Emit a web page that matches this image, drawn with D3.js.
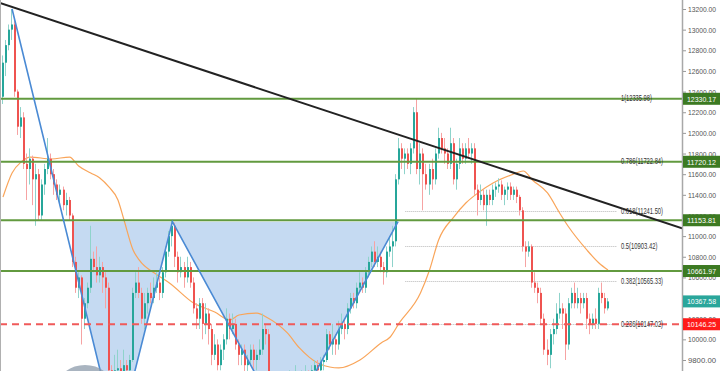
<!DOCTYPE html>
<html>
<head>
<meta charset="utf-8">
<script src="https://cdn.jsdelivr.net/npm/d3@7"></script>
<style>
  body { margin: 0; background: #fff; overflow: hidden; }
  text { font-family: "Liberation Sans", Arial, sans-serif; }
</style>
</head>
<body>
<div id="chart"></div>
<script>
// [open, high, low, close] per candle
const candles = [
  [12350,12750,12280,12680],[12680,12900,12550,12850],[12850,13050,12800,13000],[13000,13200,12900,13050],
  [13050,13100,12350,12400],[12400,12420,11980,12060],[12060,12250,11950,12150],[12150,12200,11650,11700],
  [11700,11800,11350,11650],[11650,11850,11500,11750],[11750,11780,11300,11550],[11550,11700,11100,11600],
  [11600,11650,11150,11200],[11200,11550,11150,11500],[11500,11700,11400,11650],[11650,11950,11600,11750],
  [11750,11800,11550,11600],[11600,11650,11400,11500],[11500,11550,11350,11400],[11400,11500,11300,11450],
  [11450,11480,11250,11300],[11300,11420,11200,11350],[11350,11380,11150,11200],[11200,11220,10700,10750],
  [10750,10800,10450,10500],[10500,10650,10400,10600],[10600,10620,9950,10200],[10200,10400,10100,10350],
  [10350,10550,10300,10500],[10500,11100,10450,10780],[10780,10850,10650,10700],[10700,10900,10550,10620],
  [10620,10800,10550,10700],[10700,10750,10450,10600],[10600,10650,10300,10500],[10500,10550,9600,9700],
  [9700,9750,9450,9600],[9600,9850,9550,9700],[9700,9900,9600,9720],[9720,9800,9550,9650],
  [9650,9900,9600,9750],[9750,9800,9550,9700],[9700,9850,9650,9800],[9800,10500,9780,10450],
  [10450,10650,10400,10550],[10550,10700,10400,10450],[10450,10500,10150,10200],[10200,10450,10100,10350],
  [10350,10500,10250,10450],[10450,10550,10350,10400],[10400,10600,10350,10500],[10500,10650,10450,10550],
  [10550,10600,10380,10450],[10450,10700,10400,10650],[10650,10900,10600,10850],[10850,11050,10800,11000],
  [11000,11150,10900,11100],[11100,11130,10700,10800],[10800,10850,10550,10650],[10650,10800,10600,10700],
  [10700,10750,10500,10600],[10600,10800,10550,10700],[10700,10750,10500,10550],[10550,10600,10250,10300],
  [10300,10350,10100,10200],[10200,10400,10100,10350],[10350,10400,10000,10150],[10150,10350,10050,10250],
  [10250,10300,9950,10100],[10100,10150,9750,9850],[9850,10050,9800,9950],[9950,10000,9700,9750],
  [9750,9950,9700,9900],[9900,10050,9800,10000],[10000,10300,9950,10200],[10200,10250,10000,10100],
  [10100,10250,10050,10150],[10150,10200,9900,9950],[9950,10000,9750,9850],[9850,9950,9750,9900],
  [9900,9950,9650,9750],[9750,9850,9650,9800],[9800,9950,9750,9900],[9900,9950,9700,9800],
  [9800,9900,9700,9850],[9850,10000,9800,9900],[9900,10250,9850,10100],[10100,10150,9950,10050],
  [10050,10100,9450,9550],[9550,9600,9350,9450],[9450,9600,9400,9500],[9500,9550,9300,9400],
  [9400,9450,9200,9300],[9300,9450,9250,9350],[9350,9550,9300,9450],[9450,9700,9400,9550],
  [9550,9650,9450,9500],[9500,9750,9450,9600],[9600,9650,9400,9500],[9500,9700,9450,9600],
  [9600,9750,9550,9650],[9650,9700,9500,9600],[9600,9750,9550,9700],[9700,9800,9650,9750],
  [9750,9800,9650,9700],[9700,9830,9650,9780],[9780,9850,9700,9800],[9800,10100,9780,10050],
  [10050,10080,9900,9950],[9950,10150,9850,10000],[10000,10050,9850,9950],[9950,10180,9900,10100],
  [10100,10250,10050,10150],[10150,10200,10000,10100],[10100,10350,10050,10300],[10300,10450,10250,10400],
  [10400,10450,10300,10350],[10350,10550,10300,10500],[10500,10650,10450,10550],[10550,10600,10450,10500],
  [10500,10700,10450,10650],[10650,10800,10600,10750],[10750,10900,10700,10850],[10850,10950,10700,10750],
  [10750,10900,10700,10800],[10800,10850,10650,10700],[10700,10750,10530,10650],[10650,10900,10600,10850],
  [10850,11000,10800,10900],[10900,11100,10700,10950],[10950,11600,10900,11550],[11550,11950,11500,11850],
  [11850,11900,11650,11750],[11750,11850,11600,11800],[11800,11850,11650,11700],[11700,11900,11600,11850],
  [11850,12250,11800,12200],[12200,12335,11600,11650],[11650,11900,11500,11800],[11800,11850,11250,11600],
  [11600,11700,11450,11500],[11500,11700,11400,11650],[11650,11750,11450,11550],[11550,11850,11500,11800],
  [11800,12050,11750,11950],[11950,12000,11800,11850],[11850,11950,11700,11800],[11800,11850,11650,11700],
  [11700,12050,11650,11900],[11900,11950,11500,11550],[11550,11750,11450,11700],[11700,11950,11650,11850],
  [11850,11900,11700,11750],[11750,11900,11700,11850],[11850,11950,11750,11800],[11800,11900,11700,11850],
  [11850,11900,11400,11450],[11450,11500,11200,11350],[11350,11500,11300,11400],[11400,11450,11250,11300],
  [11300,11450,11100,11400],[11400,11450,11300,11350],[11350,11500,11300,11450],[11450,11520,11380,11480],
  [11480,11560,11420,11500],[11500,11540,11350,11400],[11400,11480,11300,11450],[11450,11520,11350,11480],
  [11480,11520,11350,11400],[11400,11480,11350,11450],[11450,11480,11320,11380],[11380,11400,11200,11250],
  [11250,11280,10850,10900],[10900,10950,10700,10850],[10850,10950,10800,10900],[10900,10920,10500,10550],
  [10550,10650,10450,10500],[10500,10550,10350,10450],[10450,10500,10150,10200],[10200,10250,9850,9900],
  [9900,10000,9750,9850],[9850,10100,9720,10050],[10050,10200,9950,10100],[10100,10350,10050,10250],
  [10250,10450,10200,10300],[10300,10350,10100,10250],[10250,10300,9800,9950],[9950,10400,9900,10350],
  [10350,10500,10300,10450],[10450,10550,10300,10350],[10350,10500,10300,10400],[10400,10450,10250,10350],
  [10350,10450,10300,10400],[10400,10450,10100,10200],[10200,10250,10050,10150],[10150,10250,10100,10200],
  [10200,10300,10100,10150],[10150,10500,10100,10450],[10450,10550,10350,10400],[10400,10450,10250,10300],
  [10300,10400,10280,10367.58]
];

// moving average: [candle index, price]
const maPoints = [
  [0,11379],[3,11612],[6,11718],[9,11766],[16,11747],[22,11766],[25,11679],[29,11612],[32,11563],
  [35,11476],[38,11350],[40,11156],[43,10866],[45,10769],[51,10624],[55,10546],[63,10352],[70,10265],
  [75,10188],[78,10236],[84,10255],[87,10217],[94,10062],[98,9917],[104,9771],[108,9732],[111,9723],
  [118,9800],[125,9965],[128,10023],[131,10159],[138,10449],[141,10672],[144,10963],[149,11185],
  [153,11321],[157,11418],[162,11515],[168,11592],[172,11631],[175,11544],[180,11418],[184,11224],
  [187,11088],[193,10866],[197,10740],[200,10672]
];

const priceTicks = [9800,10000,10200,10400,10600,10800,11000,11200,11400,11600,11800,12000,12200,12400,12600,12800,13000,13200];
const greenLevels = [12330.17, 11720.12, 11153.81, 10661.97];
const fibNames = ["1", "0.786", "0.618", "0.5", "0.382", "0.236"];
const fibPrices = [12335.98, 11722.84, 11241.50, 10903.42, 10565.33, 10147.02];
const fibStart = 133;
const redLevel = 10146.25;
const lastPrice = 10367.58;
const trendPoints = [[-1, 13258], [224.5, 11075]];
const patternPoints = [[3, 13200], [37.8, 9016], [56, 11140], [93.2, 9142], [130.6, 11140]];
const shadePoints = [[23, 11140], [23, 10800], [37.8, 9016], [56, 11140], [93.2, 9142], [130.6, 11140]];

const fullWidth = 720;
const fullHeight = 371;
const plotRight = 682;

const x = d3.scaleLinear().domain([0, 200]).range([3, 608]);
const y = d3.scaleLinear().domain([9800, 13200]).range([360, 9]);

const svg = d3
  .select("#chart")
  .append("svg")
  .attr("width", fullWidth)
  .attr("height", fullHeight);

svg.append("defs")
  .append("clipPath")
  .attr("id", "plot")
  .append("rect")
  .attr("width", plotRight)
  .attr("height", fullHeight);

const plot = svg.append("g").attr("clip-path", "url(#plot)");

const line = d3.line().x(d => x(d[0])).y(d => y(d[1]));

// pattern shading
plot.append("path")
  .attr("d", line(shadePoints) + "Z")
  .attr("fill", "#2f7bd0")
  .attr("fill-opacity", 0.28);

// fib dotted lines
plot.append("g")
  .selectAll("line")
  .data(fibPrices)
  .enter()
  .append("line")
  .attr("x1", x(fibStart))
  .attr("x2", 617)
  .attr("y1", d => Math.round(y(d)) + 0.5)
  .attr("y2", d => Math.round(y(d)) + 0.5)
  .style("stroke", "#b8b8b8")
  .style("stroke-dasharray", "1,1");

// moving average
plot.append("path")
  .datum(maPoints)
  .attr("d", d3.line().x(d => x(d[0])).y(d => y(d[1])).curve(d3.curveMonotoneX))
  .attr("fill", "none")
  .style("stroke", "#f9a55a")
  .style("stroke-width", 1.2);

// candles
const up = d => d[3] >= d[0];
const candle = plot.append("g")
  .selectAll("g")
  .data(candles)
  .enter()
  .append("g");

candle.append("line")
  .attr("x1", (d, i) => Math.round(x(i)) - 0.5)
  .attr("x2", (d, i) => Math.round(x(i)) - 0.5)
  .attr("y1", d => y(d[1]))
  .attr("y2", d => y(d[2]))
  .style("stroke", d => (up(d) ? "#8fd3cb" : "#f6a3a3"))
  .style("stroke-width", 1);

candle.append("rect")
  .attr("x", (d, i) => Math.round(x(i)) - 1)
  .attr("width", 2)
  .attr("y", d => y(Math.max(d[0], d[3])))
  .attr("height", d => Math.max(1, Math.abs(y(d[0]) - y(d[3]))))
  .attr("fill", d => (up(d) ? "#26a69a" : "#ef5350"));

// green horizontal levels
plot.append("g")
  .selectAll("line")
  .data(greenLevels)
  .enter()
  .append("line")
  .attr("x1", 0)
  .attr("x2", plotRight)
  .attr("y1", d => y(d))
  .attr("y2", d => y(d))
  .style("stroke", "#629a3f")
  .style("stroke-width", 2);

// blue pattern legs
plot.append("path")
  .attr("d", line(patternPoints))
  .attr("fill", "none")
  .style("stroke", "#4a8ad4")
  .style("stroke-width", 1.6);

// trend line
plot.append("path")
  .attr("d", line(trendPoints))
  .style("stroke", "#222")
  .style("stroke-width", 2);

// red dashed level
plot.append("line")
  .attr("x1", 0)
  .attr("x2", plotRight)
  .attr("y1", y(redLevel))
  .attr("y2", y(redLevel))
  .style("stroke", "#f05a5a")
  .style("stroke-width", 2)
  .style("stroke-dasharray", "7,5");

// fib labels
svg.append("g")
  .selectAll("text")
  .data(fibPrices)
  .enter()
  .append("text")
  .attr("x", 621)
  .attr("y", d => y(d))
  .attr("dy", "0.35em")
  .attr("textLength", (d, i) => (fibNames[i].length + 10) * 2.8)
  .attr("lengthAdjust", "spacingAndGlyphs")
  .style("font-size", "8.5px")
  .style("fill", "#333")
  .text((d, i) => `${fibNames[i]}(${d.toFixed(2)})`);

// watermark blob at bottom left
svg.append("ellipse")
  .attr("cx", 85)
  .attr("cy", 386)
  .attr("rx", 27)
  .attr("ry", 21)
  .attr("fill", "#8c9bab")
  .attr("opacity", 0.75);

// left border
svg.append("line")
  .attr("x1", 0.5).attr("x2", 0.5)
  .attr("y1", 0).attr("y2", fullHeight)
  .style("stroke", "#b0b0b0");

// price axis
svg.append("line")
  .attr("x1", plotRight + 0.5).attr("x2", plotRight + 0.5)
  .attr("y1", 0).attr("y2", fullHeight)
  .style("stroke", "#a8a8a8")
  .style("stroke-width", 1.5);

const tagPrices = greenLevels.concat([lastPrice, redLevel]);
// tick labels that sit fully under a price tag are not visible in the picture
const hidden = t => tagPrices.some(p => Math.abs(y(p) - y(t)) < 4);

const axis = svg.append("g")
  .attr("transform", `translate(${plotRight + 1}, 0)`)
  .call(
    d3.axisRight(y)
      .tickValues(priceTicks)
      .tickFormat(d => (hidden(d) ? "" : d3.format(".2f")(d)))
      .tickSize(3)
      .tickSizeOuter(0)
      .tickPadding(2)
  );
axis.select(".domain").remove();
axis.selectAll("line").style("stroke", "#999");
axis.selectAll("text")
  .attr("textLength", 28)
  .attr("lengthAdjust", "spacingAndGlyphs")
  .style("font-size", "8px")
  .style("fill", "#555")
  .style("font-family", "\"Liberation Sans\", Arial, sans-serif");

// price label boxes
const tags = greenLevels.map(p => ({ p, bg: "#3c7a22" }))
  .concat([{ p: lastPrice, bg: "#2aa69b" }, { p: redLevel, bg: "#ff1a1a" }]);

const tag = svg.append("g")
  .selectAll("g")
  .data(tags)
  .enter()
  .append("g")
  .attr("transform", d => `translate(${plotRight + 1}, ${y(d.p)})`);

tag.append("rect")
  .attr("x", 0)
  .attr("y", -6)
  .attr("width", fullWidth - plotRight)
  .attr("height", 12)
  .attr("fill", d => d.bg);

tag.append("text")
  .attr("x", 4)
  .attr("dy", "0.35em")
  .attr("textLength", 29)
  .attr("lengthAdjust", "spacingAndGlyphs")
  .style("font-size", "8px")
  .style("fill", "#fff")
  .text(d => d.p.toFixed(2));
</script>
</body>
</html>
